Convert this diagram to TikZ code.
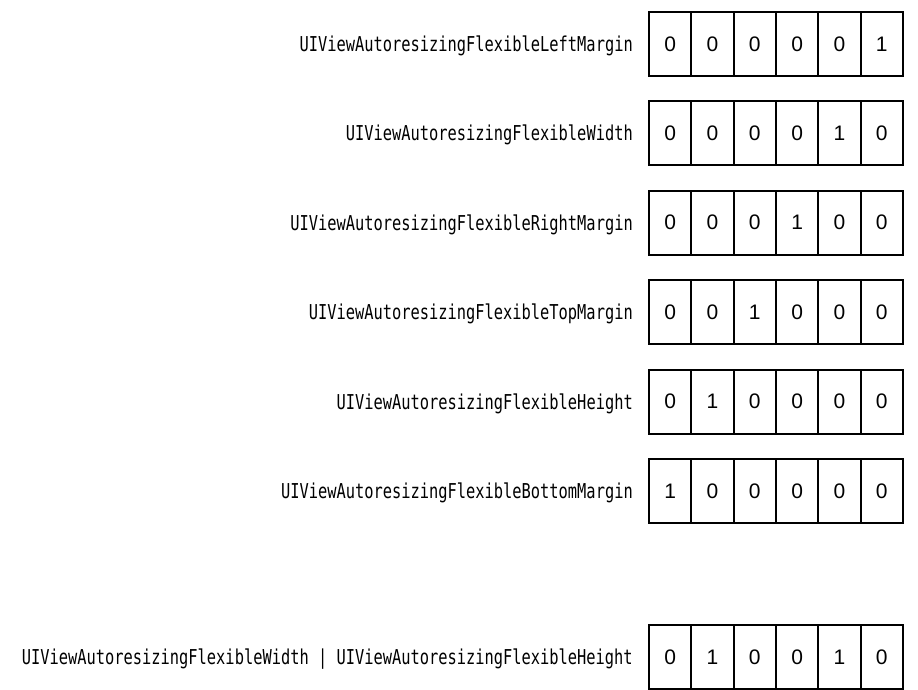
\documentclass[tikz,border=0pt]{standalone}
\usepackage{fontspec}
\newfontfamily\lblfont[FakeStretch=0.75]{DejaVu Sans Mono}
\newfontfamily\digitfont{Liberation Sans}
\begin{document}
\begin{tikzpicture}[x=1pt,y=-1pt,
  cell/.style={draw=black, line width=1.9pt, minimum width=42.33pt, minimum height=64pt,
    inner sep=0pt, font=\digitfont\fontsize{21}{21}\selectfont, anchor=north west},
  lbl/.style={anchor=base east, inner sep=0pt, font=\lblfont\fontsize{20.5}{20.5}\selectfont}]
\useasboundingbox (0,0) rectangle (918,690);
\foreach \r/\y/\txt/\bits in {
  1/11/UIViewAutoresizingFlexibleLeftMargin/{0,0,0,0,0,1},
  2/100.4/UIViewAutoresizingFlexibleWidth/{0,0,0,0,1,0},
  3/189.8/UIViewAutoresizingFlexibleRightMargin/{0,0,0,1,0,0},
  4/279.2/UIViewAutoresizingFlexibleTopMargin/{0,0,1,0,0,0},
  5/368.6/UIViewAutoresizingFlexibleHeight/{0,1,0,0,0,0},
  6/458/UIViewAutoresizingFlexibleBottomMargin/{1,0,0,0,0,0},
  7/624/{UIViewAutoresizingFlexibleWidth | UIViewAutoresizingFlexibleHeight}/{0,1,0,0,1,0}} {
  \node[lbl] (l\r) at (633,\y+40.5) {\txt};
  \foreach \b [count=\c] in \bits {
    \node[cell] (r\r c\c) at (648+42.33*\c-42.33,\y) {\b};
  }
}
\end{tikzpicture}
\end{document}
